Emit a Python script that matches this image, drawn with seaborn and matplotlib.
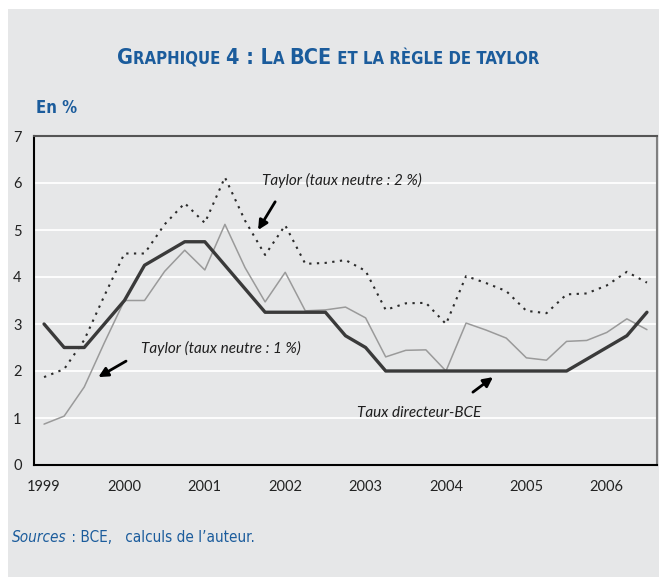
import matplotlib
matplotlib.use("Agg")
import matplotlib.pyplot as plt
import seaborn as sns
import pandas as pd
from matplotlib import font_manager
from matplotlib.offsetbox import TextArea, HPacker, AnchoredOffsetbox

# quarterly data, 1999 Q1 -> 2006 Q3
quarters = [f"{y}T{q}" for y in range(1999, 2007) for q in range(1, 5)][:31]
years = ["1999", "2000", "2001", "2002", "2003", "2004", "2005", "2006"]

bce = [3.0, 2.5, 2.5, 3.0, 3.5, 4.25, 4.5, 4.75, 4.75, 4.25, 3.75, 3.25, 3.25,
       3.25, 3.25, 2.75, 2.5, 2.0, 2.0, 2.0, 2.0, 2.0, 2.0, 2.0, 2.0, 2.0, 2.0,
       2.25, 2.5, 2.75, 3.25]
taylor_1 = [0.87, 1.04, 1.66, 2.6, 3.5, 3.5, 4.12, 4.57, 4.15, 5.12, 4.2, 3.47,
            4.1, 3.28, 3.3, 3.36, 3.13, 2.3, 2.44, 2.45, 2.0, 3.02, 2.87, 2.7,
            2.28, 2.23, 2.63, 2.65, 2.82, 3.11, 2.88]
taylor_2 = [1.87, 2.04, 2.66, 3.6, 4.5, 4.5, 5.12, 5.57, 5.15, 6.12, 5.2, 4.47,
            5.1, 4.28, 4.3, 4.36, 4.13, 3.3, 3.44, 3.45, 3.0, 4.02, 3.87, 3.7,
            3.28, 3.23, 3.63, 3.65, 3.82, 4.11, 3.88]

df = pd.DataFrame({"trim": range(len(quarters)), "bce": bce,
                   "taylor_1": taylor_1, "taylor_2": taylor_2})

bg = "#e6e7e8"
blue = "#1b5c9c"
names = {f.name for f in font_manager.fontManager.ttflist}
cond = "Liberation Sans Narrow" if "Liberation Sans Narrow" in names else "DejaVu Sans"

sns.set_theme(style="white")
plt.rcParams["font.family"] = ["Lato", "DejaVu Sans"]

fig = plt.figure(figsize=(6.59, 5.77), dpi=100)
fig.patch.set_facecolor("white")
fig.add_artist(plt.Rectangle((8 / 659, 0), 1, 568 / 577, transform=fig.transFigure,
                             facecolor=bg, edgecolor="none", zorder=0))

ax = fig.add_axes([34 / 659, 112 / 577, 623 / 659, 329 / 577])
ax.set_facecolor(bg)

sns.lineplot(data=df, x="trim", y="taylor_2", ax=ax, color="#2b2b2b", lw=1.5,
             linestyle=(0, (1.1, 2.6)))
sns.lineplot(data=df, x="trim", y="taylor_1", ax=ax, color="#9a9a9a", lw=1.1)
sns.lineplot(data=df, x="trim", y="bce", ax=ax, color="#3a3a3a", lw=2.4)

ax.set_xlim(-0.5, 30.5)
ax.set_ylim(0, 7)
ax.set_xlabel("")
ax.set_ylabel("")
ax.set_xticks([3.5, 7.5, 11.5, 15.5, 19.5, 23.5, 27.5])
ax.set_xticklabels([])
ax.set_xticks(range(0, 31, 4), minor=True)
ax.set_xticklabels(years, minor=True)
ax.tick_params(axis="x", which="major", direction="in", length=5, width=1.2, color="black")
ax.tick_params(axis="x", which="minor", length=0, pad=11, labelsize=10.5, labelcolor="#222222")
ax.set_yticks(range(0, 8))
ax.tick_params(axis="y", direction="in", length=5, width=1.2, color="black",
               pad=9, labelsize=10.5, labelcolor="#222222")
ax.yaxis.grid(True, color="white", lw=1.3)
ax.set_axisbelow(True)

for side, col in [("left", "black"), ("bottom", "black"), ("top", "#555555"), ("right", "#808080")]:
    ax.spines[side].set_visible(True)
    ax.spines[side].set_color(col)
    ax.spines[side].set_linewidth(1.5)

# annotations
arrow = dict(arrowstyle="-|>", color="black", lw=2, mutation_scale=14, shrinkA=0, shrinkB=0)
note = dict(fontsize=11, fontstyle="italic", color="#1e1e1e", va="center", ha="left")
ax.text(10.84, 6.06, "Taylor (taux neutre : 2 %)", **note)
ax.annotate("", xy=(10.65, 5.0), xytext=(11.5, 5.6), arrowprops=arrow)
ax.text(4.83, 2.49, "Taylor (taux neutre : 1 %)", **note)
ax.annotate("", xy=(2.7, 1.87), xytext=(4.08, 2.21), arrowprops=arrow)
ax.text(15.57, 1.11, "Taux directeur-BCE", **note)
ax.annotate("", xy=(22.34, 1.87), xytext=(21.34, 1.55), arrowprops=arrow)

# title in small caps
big = dict(family=cond, fontstretch="condensed", fontweight="bold", fontsize=15.5, color=blue)
small = dict(family=cond, fontstretch="condensed", fontweight="bold", fontsize=12, color=blue)
parts = [("G", big), ("RAPHIQUE ", small), ("4 : L", big), ("A ", small),
         ("BCE", big), (" ET LA RÈGLE DE TAYLOR", small)]
title = HPacker(children=[TextArea(t, textprops=p) for t, p in parts],
                align="baseline", pad=0, sep=0)
fig.add_artist(AnchoredOffsetbox(loc="center", child=title, pad=0, borderpad=0, frameon=False,
                                 bbox_to_anchor=(328 / 659, 1 - 58 / 577),
                                 bbox_transform=fig.transFigure))

fig.text(36 / 659, 1 - 108 / 577, "En %", family=cond, fontstretch="condensed",
         fontweight="bold", fontsize=12, color=blue, va="center", ha="left")

src_it = dict(family=cond, fontstretch="condensed", fontstyle="italic", fontsize=11, color=blue)
src = dict(family=cond, fontstretch="condensed", fontsize=11, color=blue)
source = HPacker(children=[TextArea("Sources", textprops=src_it),
                           TextArea(" : BCE,   calculs de l’auteur.", textprops=src)],
                 align="baseline", pad=0, sep=0)
fig.add_artist(AnchoredOffsetbox(loc="center left", child=source, pad=0, borderpad=0, frameon=False,
                                 bbox_to_anchor=(12 / 659, 1 - 537 / 577),
                                 bbox_transform=fig.transFigure))

fig.savefig("out.png", dpi=100, facecolor=fig.get_facecolor())
